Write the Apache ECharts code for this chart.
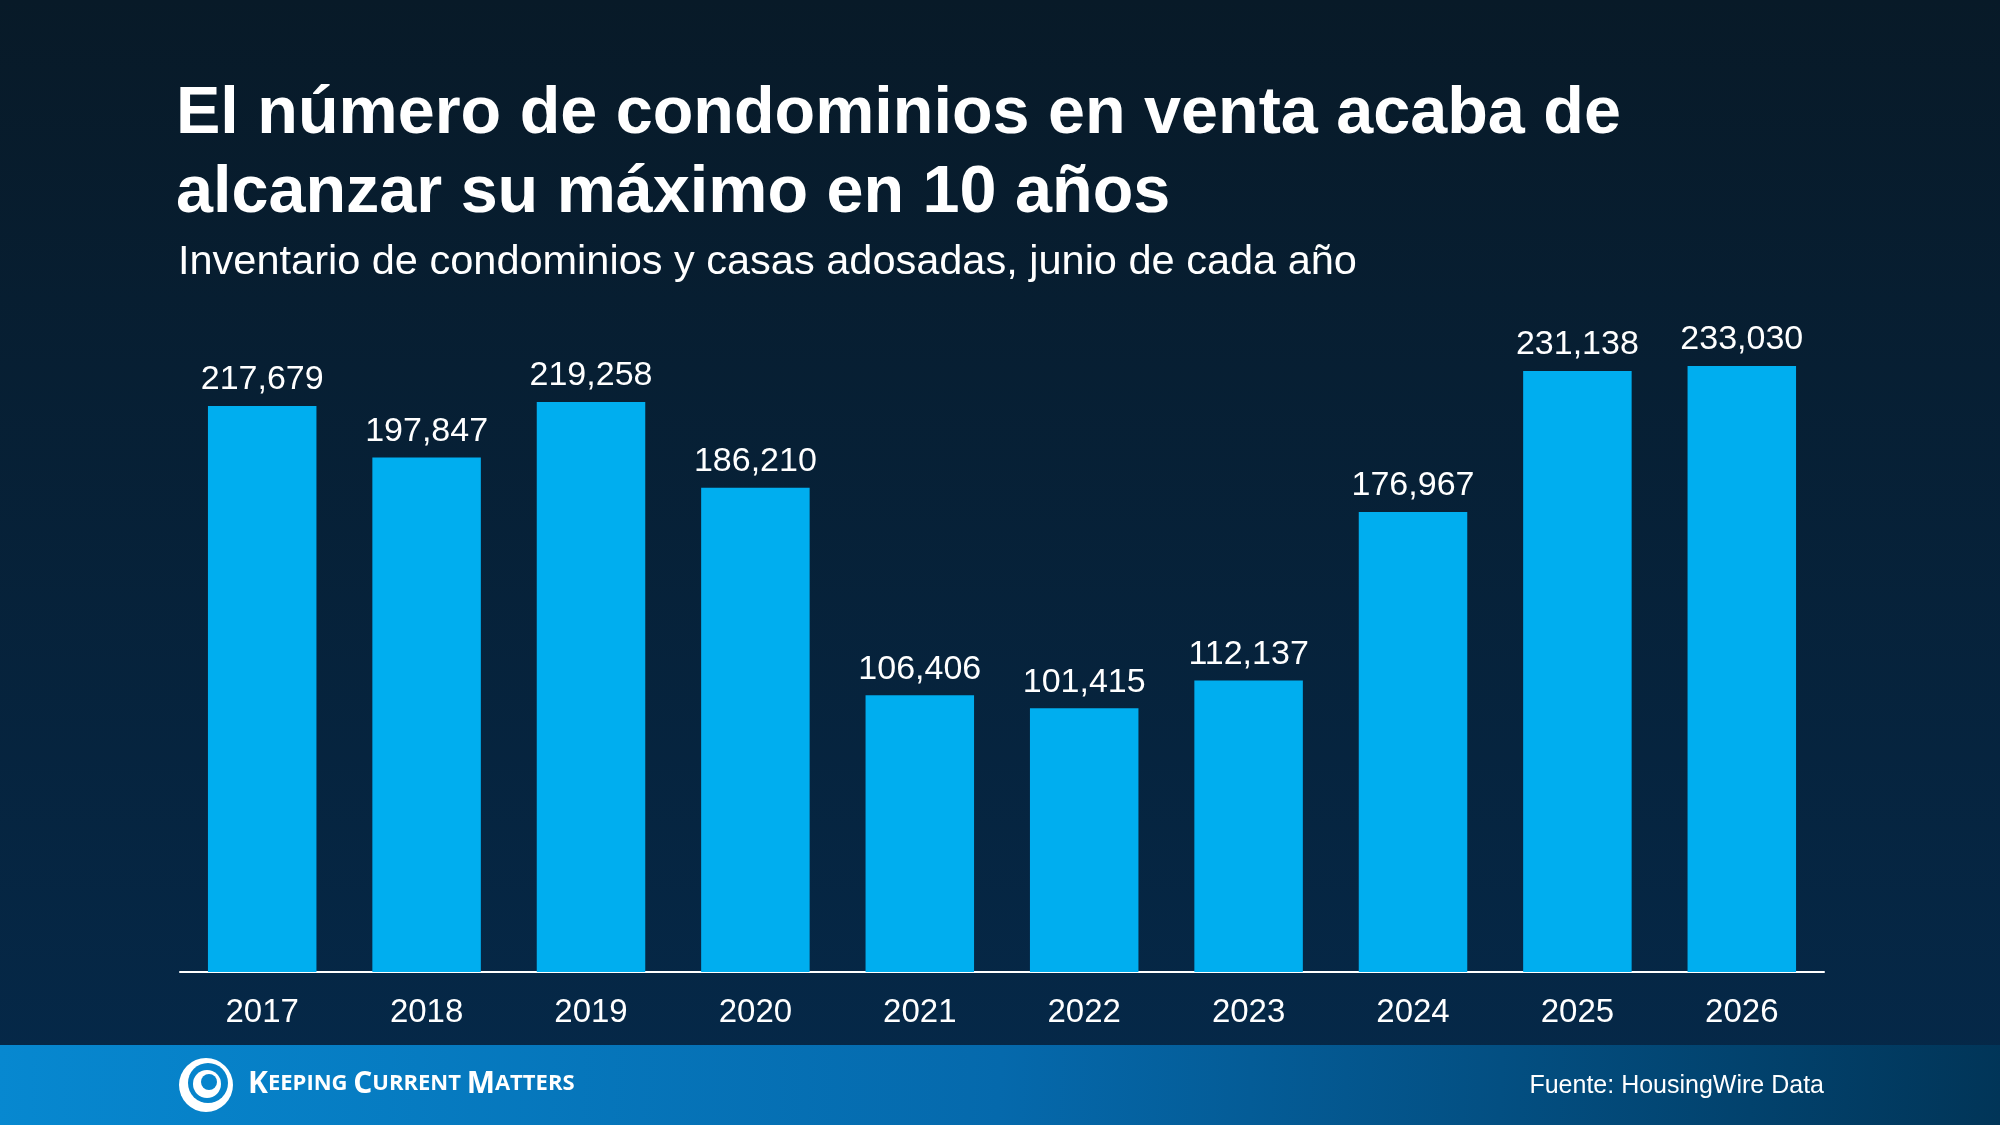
<!DOCTYPE html>
<html>
<head>
<meta charset="utf-8">
<script src="https://cdn.jsdelivr.net/npm/echarts@6/dist/echarts.min.js"></script>
<style>html,body{margin:0;padding:0;background:#06213a;}#c{width:2000px;height:1125px;}</style>
</head>
<body>
<div id="c"></div>
<script>
const categories = ['2017','2018','2019','2020','2021','2022','2023','2024','2025','2026'];
const inventory = [217679,197847,219258,186210,106406,101415,112137,176967,231138,233030];
const titleText = 'El número de condominios en venta acaba de\nalcanzar su máximo en 10 años';
const subtitleText = 'Inventario de condominios y casas adosadas, junio de cada año';
const sourceText = 'Fuente: HousingWire Data';

const chart = echarts.init(document.getElementById('c'));
const FONT = '"Liberation Sans", Arial, Helvetica, sans-serif';
chart.setOption({
  backgroundColor: new echarts.graphic.LinearGradient(0,0,0,1,[
    {offset:0,color:'#081a28'},{offset:1,color:'#05294a'}
  ]),
  animation:false,
  title:[{
    text:titleText, left:171, top:70,
    textStyle:{color:'#fff',fontFamily:FONT,fontWeight:'bold',fontSize:66.5,lineHeight:79}
  },{
    text:subtitleText, left:173, top:237,
    textStyle:{color:'#fff',fontFamily:FONT,fontWeight:'normal',fontSize:41.5}
  }],
  grid:{left:180,right:176,top:348,bottom:153,containLabel:false},
  xAxis:{type:'category',data:categories,
    axisLine:{lineStyle:{color:'#ffffff',width:2}},
    axisTick:{show:false},
    axisLabel:{color:'#fff',fontFamily:FONT,fontSize:33,margin:24}},
  yAxis:{type:'value',min:0,max:240000,show:false,splitLine:{show:false}},
  series:[{type:'bar',data:inventory,barWidth:'66%',
    itemStyle:{color:'#00AEEF'},
    label:{show:true,position:'top',distance:9,color:'#fff',fontFamily:FONT,fontSize:34,
      formatter:p=>p.value.toLocaleString('en-US')}}],
  graphic:[
    {type:'rect',shape:{x:0,y:1045,width:2000,height:80},z:-1,
     style:{fill:new echarts.graphic.LinearGradient(0,0,1,1,[{offset:0,color:'#0788d0'},{offset:0.5,color:'#0569ac'},{offset:1,color:'#013558'}])}},
    {type:'circle',shape:{cx:206,cy:1085,r:27},style:{fill:'#fff'}},
    {type:'circle',shape:{cx:208,cy:1083,r:20},style:{fill:'#0684cc'}},
    {type:'circle',shape:{cx:207,cy:1084,r:14},style:{fill:'#fff'}},
    {type:'circle',shape:{cx:209,cy:1082,r:8},style:{fill:'#0684cc'}},
    {type:'text',left:248,top:1069,style:{
      text:'{b|K}{s|EEPING }{b|C}{s|URRENT }{b|M}{s|ATTERS}',
      rich:{b:{fill:'#fff',fontFamily:'"Open Sans", sans-serif',fontWeight:700,fontSize:30},
            s:{fill:'#fff',fontFamily:'"Open Sans", sans-serif',fontWeight:700,fontSize:22}}}},
    {type:'text',right:176,top:1074,style:{text:sourceText,fill:'#fff',fontFamily:FONT,fontSize:25}}
  ]
});
</script>
</body>
</html>
